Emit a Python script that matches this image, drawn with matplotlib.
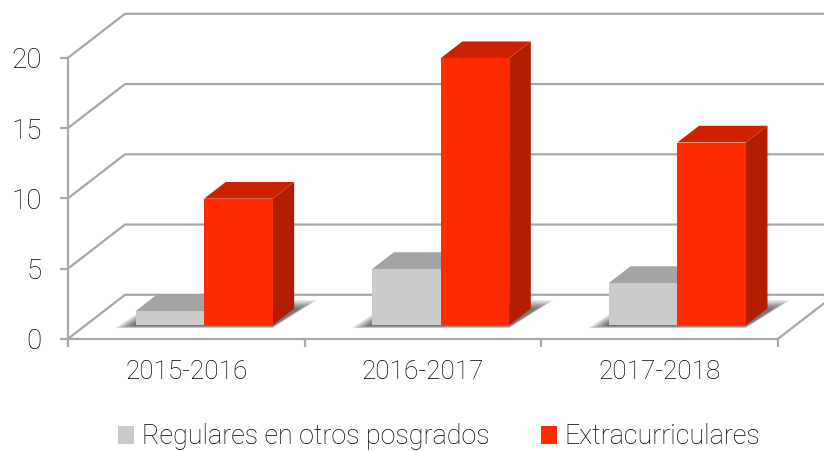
import matplotlib
matplotlib.use('Agg')
from matplotlib import pyplot as plt
from matplotlib.patches import Polygon, Patch

categories = ['2015-2016', '2016-2017', '2017-2018']
regulares = [1, 4, 3]
extra = [9, 19, 13]
y_ticks = [0, 5, 10, 15, 20]
series_names = ['Regulares en otros posgrados', 'Extracurriculares']

GRID = '#a8a8a8'
TEXT = '#000000'
GRAY = ['#cbcbcb', '#a4a4a4', '#8c8c8c']      # front, top, side
RED = ['#ff2a00', '#cc2200', '#b21d00']

W, H = 824, 451
plt.rcParams['font.family'] = ['Roboto', 'DejaVu Sans']
plt.rcParams['font.weight'] = 'light'
fig = plt.figure(figsize=(W / 100, H / 100), dpi=100)
# front plane of the chart box, in pixels: x 68-778, y 57-338
ax = fig.add_axes([68 / W, (H - 338.8) / H, 710 / W, 281 / H])
ax.set_xlim(0, 3)
ax.set_ylim(0, 20)

PX = 3 / 710     # one pixel in x data units
PY = 20 / 281    # one pixel in y data units

# how far the back wall is shifted, in data units
DX = 57 * PX
DY = 44 * PY


def pt(x, y, d):
    # d = 0 front plane, d = 1 back wall
    return (x + d * DX, y + d * DY)


def poly(points, color, z, alpha=1.0):
    p = Polygon(points, closed=True, facecolor=color, edgecolor='none', alpha=alpha,
                zorder=z, clip_on=False)
    ax.add_patch(p)


# walls and floor lines
lw = 1.6
for v in y_ticks:
    a = pt(0, v, 0)
    b = pt(0, v, 1)
    c = pt(3, v, 1)
    ax.plot([a[0], b[0], c[0]], [a[1], b[1], c[1]], color=GRID, lw=lw, zorder=1,
            clip_on=False, solid_joinstyle='miter')
a = pt(3, 0, 0)
b = pt(3, 0, 1)
ax.plot([a[0], b[0]], [a[1], b[1]], color=GRID, lw=lw, zorder=1, clip_on=False)

for s in ['top', 'right']:
    ax.spines[s].set_visible(False)
for s in ['left', 'bottom']:
    ax.spines[s].set_color(GRID)
    ax.spines[s].set_linewidth(lw)

ax.set_xticks([0, 1, 2, 3])
ax.set_xticklabels([])
ax.set_xticks([0.5, 1.5, 2.5], labels=categories, minor=True)
ax.set_yticks(y_ticks)
ax.tick_params(axis='x', which='major', length=6, width=lw, color=GRID)
ax.tick_params(axis='x', which='minor', length=0, labelsize=18.8, pad=15.5, labelcolor=TEXT)
ax.tick_params(axis='y', length=6, width=lw, color=GRID, labelsize=20, pad=13, labelcolor=TEXT)

# bars
bw = 68.5 * PX
d0 = 0.31
d1 = 0.69

# soft shadows on the floor first, biggest layer is the faintest
for i in range(3):
    l = i + 0.5 - bw
    r = i + 0.5 + bw
    for k in range(8):
        g = (7 - k) * 2.4
        low = pt(0, 0, d0)[1] - (3 - k * 0.3) * PY
        high = pt(0, 0, d1)[1] + (g * 0.5) * PY
        poly([(pt(l, 0, d0)[0] - (4 + g) * PX, low),
              (pt(r, 0, d0)[0], low),
              (pt(r, 0, d1)[0] + (6 + g) * PX, high),
              (pt(l, 0, d1)[0], high)],
             '#000000', 2, alpha=0.09)

for i in range(3):
    cx = i + 0.5
    for vals, cols, l in ((regulares, GRAY, cx - bw), (extra, RED, cx)):
        v = vals[i]
        r = l + bw
        z = 3 if cols is GRAY else 4
        # side, top, front
        poly([pt(r, 0, d0), pt(r, 0, d1), pt(r, v, d1), pt(r, v, d0)], cols[2], z)
        poly([pt(l, v, d0), pt(r, v, d0), pt(r, v, d1), pt(l, v, d1)], cols[1], z)
        poly([pt(l, 0, d0), pt(r, 0, d0), pt(r, v, d0), pt(l, v, d0)], cols[0], z + 0.1)

handles = [Patch(facecolor=GRAY[0], label=series_names[0]),
           Patch(facecolor=RED[0], label=series_names[1])]
fig.legend(handles=handles, loc='center', bbox_to_anchor=(439 / W, (H - 437) / H), ncol=2,
           frameon=False, fontsize=19.4, handlelength=0.6, handleheight=0.6,
           handletextpad=0.27, columnspacing=1.9, labelcolor=TEXT, borderpad=0)

fig.savefig('out.png', dpi=100)
